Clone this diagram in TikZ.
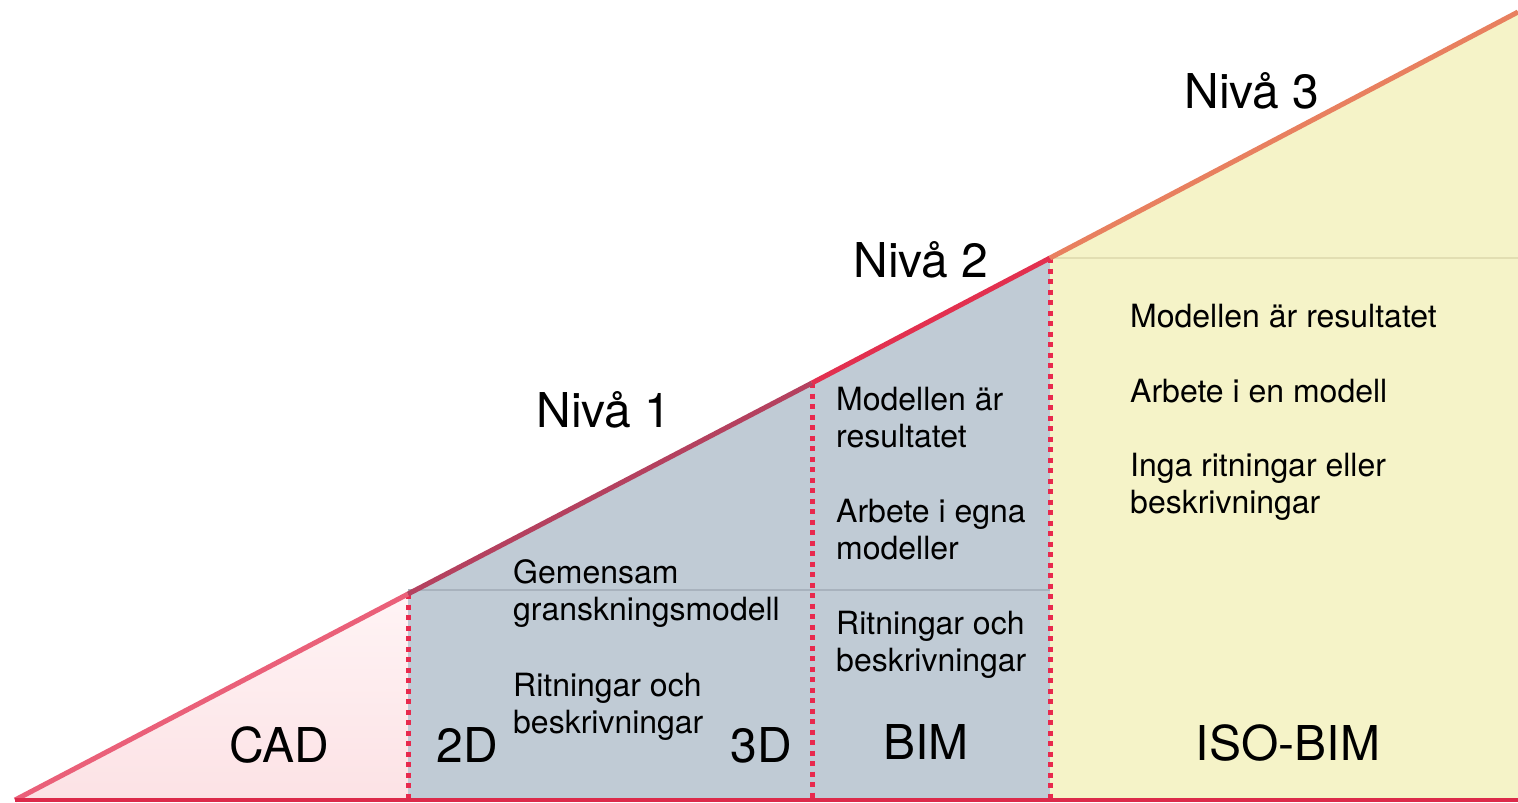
\documentclass[tikz,border=0pt]{standalone}
\usepackage{fontspec}
\setmainfont{TeX Gyre Heros}
\definecolor{pinkfillA}{RGB}{255,244,245}
\definecolor{pinkfillB}{RGB}{252,226,229}
\definecolor{grayfill}{RGB}{192,203,213}
\definecolor{yellowfill}{RGB}{245,243,200}
\definecolor{hypA}{RGB}{234,96,121}
\definecolor{hypB}{RGB}{180,65,95}
\definecolor{hypC}{RGB}{226,48,79}
\definecolor{hypD}{RGB}{232,128,95}
\definecolor{baseRed}{RGB}{220,42,74}
\definecolor{dotRed}{RGB}{232,41,77}
\definecolor{sepGray}{RGB}{168,178,189}
\definecolor{sepYellow}{RGB}{226,222,178}
\tikzset{
  biglabel/.style={font=\fontsize{48}{57}\selectfont, anchor=base, inner sep=0pt},
  smalltext/.style={font=\fontsize{32}{37}\selectfont, anchor=base west, inner sep=0pt},
  hyp/.style={line width=5pt},
  divider/.style={draw=dotRed, line width=5pt, dash pattern=on 5pt off 5.5pt},
}
\begin{document}
\begin{tikzpicture}[x=1pt,y=-1pt]
\useasboundingbox (0,0) rectangle (1518,803);
% key points
\coordinate (apex) at (15,800);
\coordinate (h1) at (408,594);
\coordinate (h2) at (812,383);
\coordinate (h3) at (1050,258);
\coordinate (h4) at (1518,12);
\coordinate (b1) at (408,800);
\coordinate (b2) at (812,800);
\coordinate (b3) at (1050,800);
\coordinate (b4) at (1518,800);
% fills
\shade[top color=pinkfillA, bottom color=pinkfillB] (apex) -- (h1) -- (b1) -- cycle;
\fill[grayfill] (b1) -- (h1) -- (h3) -- (b3) -- cycle;
\fill[yellowfill] (b3) -- (h3) -- (h4) -- (b4) -- cycle;
% separators
\coordinate (s1) at (408,590);
\coordinate (s2) at (1050,590);
\draw[sepGray, line width=1.5pt] (s1) -- (s2);
\coordinate (s3) at (1050,258);
\coordinate (s4) at (1518,258);
\draw[sepYellow, line width=2pt] (s3) -- (s4);
% dotted dividers
\draw[divider] (h1) -- (b1);
\draw[divider] (h2) -- (b2);
\draw[divider] (h3) -- (b3);
% hypotenuse
\draw[hyp, hypA] (apex) -- (h1);
\draw[hyp, hypB] (h1) -- (h2);
\draw[hyp, hypC] (h2) -- (h3);
\draw[hyp, hypD] (h3) -- (h4);
% base line
\draw[baseRed, line width=3.5pt] (apex) -- (b4);
% big labels
\node[biglabel] (n3) at (1252,108) {Nivå 3};
\node[biglabel] (n2) at (921,277) {Nivå 2};
\node[biglabel] (n1) at (604,427) {Nivå 1};
\node[biglabel] (cad) at (279,762) {CAD};
\node[biglabel] (d2) at (467,762) {2D};
\node[biglabel] (d3) at (761,762) {3D};
\node[biglabel] (bim) at (926,759) {BIM};
\node[biglabel] (isobim) at (1288,760) {ISO-BIM};
% column 1 texts
\node[smalltext] (t1a) at (513,583) {Gemensam};
\node[smalltext] (t1b) at (513,620) {granskningsmodell};
\node[smalltext] (t1c) at (513,696) {Ritningar och};
\node[smalltext] (t1d) at (513,733) {beskrivningar};
% column 2 texts
\node[smalltext] (t2a) at (836,410) {Modellen är};
\node[smalltext] (t2b) at (836,447) {resultatet};
\node[smalltext] (t2c) at (836,522) {Arbete i egna};
\node[smalltext] (t2d) at (836,559) {modeller};
\node[smalltext] (t2e) at (836,634) {Ritningar och};
\node[smalltext] (t2f) at (836,671) {beskrivningar};
% column 3 texts
\node[smalltext] (t3a) at (1130,327) {Modellen är resultatet};
\node[smalltext] (t3b) at (1130,402) {Arbete i en modell};
\node[smalltext] (t3c) at (1130,476) {Inga ritningar eller};
\node[smalltext] (t3d) at (1130,513) {beskrivningar};
\end{tikzpicture}
\end{document}
